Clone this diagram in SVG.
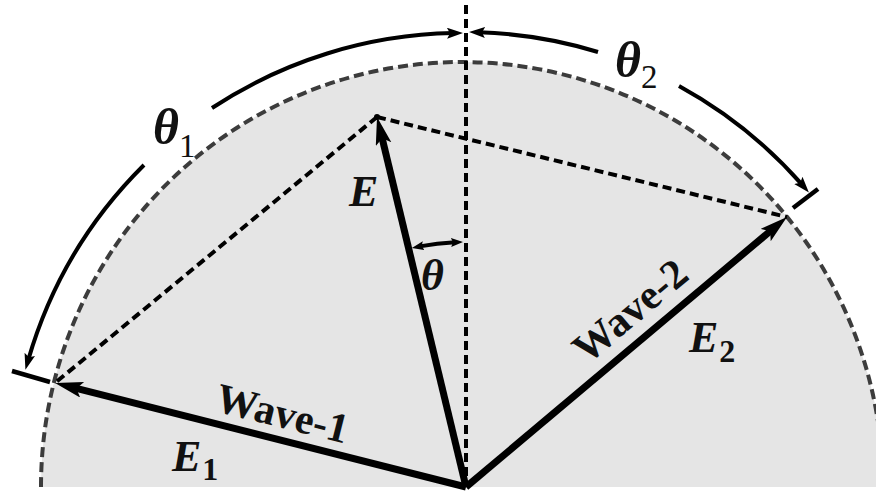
<svg xmlns="http://www.w3.org/2000/svg" width="876" height="491" viewBox="0 0 876 491">
<style>
.lbl{font-family:"Liberation Serif","Times New Roman",serif;font-weight:bold;font-style:italic;font-size:44px;fill:#111}
.th{font-size:50px}
.sub{font-style:normal;font-size:32px}
.subn{font-style:normal;font-weight:normal;font-size:33px}
.wave{font-family:"Liberation Serif","Times New Roman",serif;font-weight:bold;font-size:42px;fill:#111}
.vec{stroke:#000;stroke-width:7;fill:none}
.dash{stroke:#000;stroke-width:4;stroke-dasharray:9 5;fill:none}
.arc{stroke:#000;stroke-width:4;fill:none}
.tick{stroke:#000;stroke-width:4.5}
</style>
<defs>
<marker id="bigHead" markerUnits="userSpaceOnUse" markerWidth="30" markerHeight="18" refX="8" refY="8" orient="auto" viewBox="0 0 30 18">
<path d="M0,0 L28,8 L0,16 L6,8 Z" fill="#000"/>
</marker>
<marker id="arcHead" markerUnits="userSpaceOnUse" markerWidth="18" markerHeight="12" refX="6" refY="5.5" orient="auto-start-reverse" viewBox="0 0 18 12">
<path d="M0,0 L16,5.5 L0,11 L3,5.5 Z" fill="#000"/>
</marker>
<marker id="smallHead" markerUnits="userSpaceOnUse" markerWidth="14" markerHeight="10" refX="4" refY="4.5" orient="auto-start-reverse" viewBox="0 0 14 10">
<path d="M0,0 L12,4.5 L0,9 L2,4.5 Z" fill="#000"/>
</marker>
</defs>

<g id="background">
<path d="M41,487 A421,425 0 0,1 883,487 Z" fill="#e5e5e5"/>
<path d="M41,487 A421,425 0 0,1 883,487" fill="none" stroke="#3c3c3c" stroke-width="4" stroke-dasharray="10 5"/>
</g>

<g id="connectors">
<line class="dash" x1="466" y1="5" x2="466" y2="487" stroke-dasharray="8 5"/>
<line class="dash" x1="377" y1="117" x2="55" y2="383"/>
<line class="dash" x1="377" y1="117" x2="787" y2="217"/>
<line class="vec" x1="466" y1="487" x2="381.7" y2="136.4" marker-end="url(#bigHead)"/>
<line class="vec" x1="466" y1="487" x2="74.4" y2="387.9" marker-end="url(#bigHead)"/>
<line class="vec" x1="466" y1="487" x2="771.7" y2="229.9" marker-end="url(#bigHead)"/>
<circle cx="377" cy="117" r="3" fill="#000"/>
</g>

<g id="theta1-arc">
<path class="arc" d="M212,108 A454,454 0 0,1 453,33.1" marker-end="url(#arcHead)"/>
<path class="arc" d="M144,165 A452,452 0 0,0 28.2,360.1" marker-end="url(#arcHead)"/>
<line class="tick" x1="12" y1="371" x2="50" y2="382"/>
</g>

<g id="theta2-arc">
<path class="arc" d="M598,52 A455,455 0 0,0 479,32.3" marker-end="url(#arcHead)"/>
<path class="arc" d="M679,86 A455,455 0 0,1 802.3,184.9" marker-end="url(#arcHead)"/>
<line class="tick" x1="793" y1="208" x2="818" y2="189"/>
</g>

<g id="theta-arc">
<path class="arc" stroke-width="3" d="M419.7,246.4 A245,245 0 0,1 455,242.25" marker-start="url(#smallHead)" marker-end="url(#smallHead)"/>
</g>

<g id="labels">
<text class="lbl th" x="153" y="144">θ<tspan class="subn" dx="0" dy="13">1</tspan></text>
<text class="lbl th" x="615" y="77">θ<tspan class="subn" dx="0" dy="11">2</tspan></text>
<text class="lbl" x="421" y="290">θ</text>
<text class="lbl" x="349" y="206">E</text>
<text class="lbl" x="172" y="471">E<tspan class="sub" dx="1" dy="9">1</tspan></text>
<text class="lbl" x="689" y="352">E<tspan class="sub" dx="1" dy="10">2</tspan></text>
<text class="wave" text-anchor="middle" transform="translate(279,427) rotate(14.2)">Wave-1</text>
<text class="wave" text-anchor="middle" transform="translate(639,321.5) rotate(-40)">Wave-2</text>
</g>
</svg>
